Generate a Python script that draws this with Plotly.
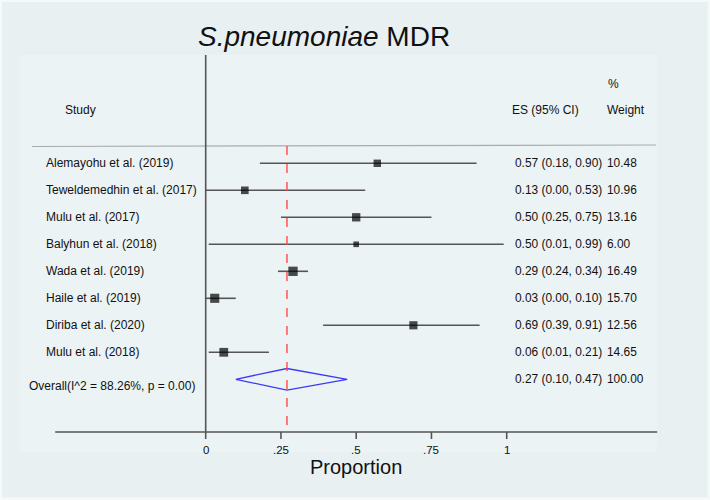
import plotly.graph_objects as go
import numpy as np

studies = ["Alemayohu et al. (2019)", "Teweldemedhin et al. (2017)", "Mulu et al. (2017)",
           "Balyhun et al. (2018)", "Wada et al. (2019)", "Haile et al. (2019)",
           "Diriba et al. (2020)", "Mulu et al. (2018)"]
es = [0.57, 0.13, 0.50, 0.50, 0.29, 0.03, 0.69, 0.06]
lo = [0.18, 0.00, 0.25, 0.01, 0.24, 0.00, 0.39, 0.01]
hi = [0.90, 0.53, 0.75, 0.99, 0.34, 0.10, 0.91, 0.21]
weight = [10.48, 10.96, 13.16, 6.00, 16.49, 15.70, 12.56, 14.65]

overall_label = "Overall(I^2 = 88.26%, p = 0.00)"
overall_es, overall_lo, overall_hi, overall_w = 0.27, 0.10, 0.47, 100.00

tick_vals = [0, 0.25, 0.5, 0.75, 1]
tick_text = ["0", ".25", ".5", ".75", "1"]

W, H = 710, 500
BG = "#E8F0F2"
INNER = "#ECF3F5"
FONT = "Liberation Sans, Arial, sans-serif"
TXT = "#111111"
AX = "#555555"

# pixel geometry helpers (layout only)
X0PX, UNITPX = 205.7, 301.0
ROW0PX, ROWPX = 163.3, 27.0
AXIS_PX = 432.0
def px2x(p): return (p - X0PX) / UNITPX
def py2y(p): return (p - ROW0PX) / ROWPX

rows = list(range(len(studies)))
ov_row = len(studies)

fig = go.Figure()

# CI lines
cx, cy = [], []
for i in rows:
    cx += [lo[i], hi[i], None]
    cy += [i, i, None]
fig.add_trace(go.Scatter(x=cx, y=cy, mode="lines", line=dict(color=AX, width=1.6),
                         hoverinfo="skip", showlegend=False))
# markers
fig.add_trace(go.Scatter(x=es, y=rows, mode="markers",
                         marker=dict(symbol="square", color="black",
                                     size=[2.3 * np.sqrt(w) for w in weight], line=dict(width=0)),
                         showlegend=False))
# diamond
dh = 0.4
fig.add_trace(go.Scatter(x=[overall_lo, overall_es, overall_hi, overall_es, overall_lo],
                         y=[ov_row, ov_row - dh, ov_row, ov_row + dh, ov_row],
                         mode="lines", line=dict(color="#3A3AF5", width=1.3),
                         showlegend=False, hoverinfo="skip"))

shapes = [
    dict(type="rect", xref="paper", yref="paper", x0=0.003, x1=0.997, y0=0.005, y1=0.996,
         fillcolor=BG, line=dict(width=0), layer="below"),
    dict(type="rect", xref="paper", yref="paper", x0=20 / W, x1=657 / W, y0=1 - 452 / H, y1=1 - 55 / H,
         fillcolor=INNER, line=dict(width=0), layer="below"),
    # separator
    dict(type="line", xref="x", yref="y", x0=px2x(32), x1=px2x(656), y0=py2y(146.5), y1=py2y(145),
         line=dict(color="#A8ACAE", width=1.2)),
    # vertical axis at 0
    dict(type="line", xref="x", yref="y", x0=0, x1=0, y0=py2y(55), y1=py2y(AXIS_PX),
         line=dict(color=AX, width=1.6)),
    # x axis line
    dict(type="line", xref="x", yref="y", x0=-0.5, x1=1.5, y0=py2y(AXIS_PX), y1=py2y(AXIS_PX),
         line=dict(color=AX, width=1.6)),
    # overall line
    dict(type="line", xref="x", yref="y", x0=overall_es, x1=overall_es, y0=py2y(146), y1=py2y(AXIS_PX),
         line=dict(color="#FF4A4A", width=1.4, dash="dash")),
]
for t in tick_vals:
    shapes.append(dict(type="line", xref="x", yref="y", x0=t, x1=t, y0=py2y(AXIS_PX), y1=py2y(AXIS_PX + 7),
                       line=dict(color=AX, width=1.6)))

ann = []
def txt(text, x, y, size, xanchor="left", xref="paper", yref="paper"):
    ann.append(dict(text=text, x=x, y=y, xref=xref, yref=yref, xanchor=xanchor, yanchor="middle",
                    showarrow=False, font=dict(family=FONT, size=size, color=TXT)))

txt("<i>S.pneumoniae</i> MDR", 324 / W, 1 - 37 / H, 28, xanchor="center")
txt("Study", 63 / W, 1 - 110 / H, 12)
txt("ES (95% CI)", 510 / W, 1 - 110 / H, 12)
txt("%", 606 / W, 1 - 84 / H, 12)
txt("Weight", 605 / W, 1 - 110 / H, 12)

ES_SIZE = 11.9
for i in rows:
    txt(studies[i], 44 / W, i, 12, yref="y")
    txt(f"{es[i]:.2f} ({lo[i]:.2f}, {hi[i]:.2f})", 513 / W, i, ES_SIZE, yref="y")
    txt(f"{weight[i]:.2f}", 605 / W, i, ES_SIZE, yref="y")
txt(overall_label, 27 / W, ov_row + 0.25, 12, yref="y")
txt(f"{overall_es:.2f} ({overall_lo:.2f}, {overall_hi:.2f})", 513 / W, ov_row, ES_SIZE, yref="y")
txt(f"{overall_w:.2f}", 605 / W, ov_row, ES_SIZE, yref="y")

for t, s in zip(tick_vals, tick_text):
    txt(s, t, py2y(450), 11.5, xanchor="center", xref="x", yref="y")
txt("Proportion", 0.5, py2y(467), 20, xanchor="center", xref="x", yref="y")

fig.update_layout(
    width=W, height=H, margin=dict(l=0, r=0, t=0, b=0),
    paper_bgcolor="#F6F9FA", plot_bgcolor="rgba(0,0,0,0)",
    xaxis=dict(range=[px2x(0), px2x(W)], visible=False, fixedrange=True),
    yaxis=dict(range=[py2y(H), py2y(0)], visible=False, fixedrange=True),
    shapes=shapes, annotations=ann, showlegend=False,
)
fig.write_html("out.html", config={"displayModeBar": False},
               post_script="document.body.style.margin='0';")
